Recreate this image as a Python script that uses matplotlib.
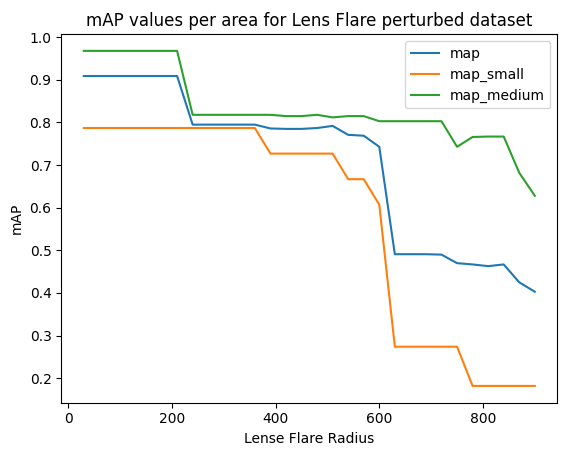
import matplotlib
matplotlib.use('Agg')
import matplotlib.pyplot as plt

# Rayons du lens flare
radius = [30, 60, 90, 120, 150, 180, 210, 240, 270, 300,
          330, 360, 390, 420, 450, 480, 510, 540, 570, 600,
          630, 660, 690, 720, 750, 780, 810, 840, 870, 900]

map_all = [0.909, 0.909, 0.909, 0.909, 0.909, 0.909, 0.909, 0.795, 0.795, 0.795,
           0.795, 0.795, 0.786, 0.785, 0.785, 0.787, 0.792, 0.771, 0.769, 0.743,
           0.491, 0.491, 0.491, 0.490, 0.470, 0.467, 0.463, 0.467, 0.425, 0.403]

map_small = [0.787, 0.787, 0.787, 0.787, 0.787, 0.787, 0.787, 0.787, 0.787, 0.787,
             0.787, 0.787, 0.727, 0.727, 0.727, 0.727, 0.727, 0.667, 0.667, 0.607,
             0.274, 0.274, 0.274, 0.274, 0.274, 0.182, 0.182, 0.182, 0.182, 0.182]

map_medium = [0.968, 0.968, 0.968, 0.968, 0.968, 0.968, 0.968, 0.818, 0.818, 0.818,
              0.818, 0.818, 0.818, 0.815, 0.815, 0.818, 0.812, 0.815, 0.815, 0.803,
              0.803, 0.803, 0.803, 0.803, 0.743, 0.766, 0.767, 0.767, 0.682, 0.628]

fig = plt.figure(figsize=(5.67, 4.55), dpi=100)
ax = fig.add_axes([0.108, 0.115, 0.875, 0.81])
ax.plot(radius, map_all, label='map')
ax.plot(radius, map_small, label='map_small')
ax.plot(radius, map_medium, label='map_medium')
ax.set_xlabel('Lense Flare Radius')
ax.set_ylabel('mAP')
ax.set_title('mAP values per area for Lens Flare perturbed dataset')
ax.legend()
fig.savefig('out.png', dpi=100)
